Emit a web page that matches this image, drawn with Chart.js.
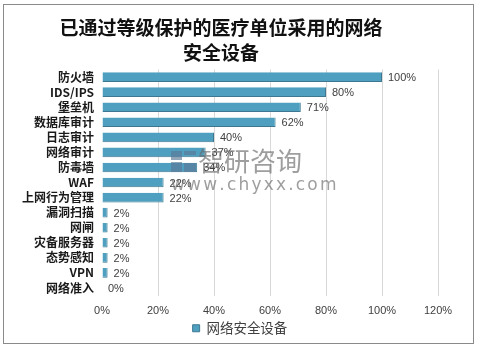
<!DOCTYPE html>
<html><head><meta charset="utf-8">
<script src="https://cdn.jsdelivr.net/npm/chart.js@4/dist/chart.umd.min.js"></script>
<style>html,body{margin:0;padding:0;background:#fff}#wrap{width:478px;height:348px;position:relative}</style>
</head><body><div id="wrap"><canvas id="c" width="478" height="348"></canvas></div>
<script>
const categories = ['防火墙','IDS/IPS','堡垒机','数据库审计','日志审计','网络审计','防毒墙','WAF','上网行为管理','漏洞扫描','网闸','灾备服务器','态势感知','VPN','网络准入'];
const values = [100,80,71,62,40,37,34,22,22,2,2,2,2,2,0];
const seriesName = '网络安全设备';
const titleLines = ['已通过等级保护的医疗单位采用的网络','安全设备'];
const xTicks = [0,20,40,60,80,100,120];

const frame = {
  id:'frame',
  beforeDraw(chart){
    const c=chart.ctx; c.save(); c.fillStyle='#fff'; c.fillRect(0,0,chart.width,chart.height); c.restore();
  },
  afterLayout(chart){
    if(chart.legend){ chart.legend.left=4; chart.legend.right=476; }
  },
  afterDraw(chart){
    const c=chart.ctx; c.save();
    c.strokeStyle='#8a8a8a'; c.lineWidth=1;
    c.strokeRect(3.5,4.5,470,339);
    c.restore();
  }
};
const labelsPlugin = {
  id:'barLabels',
  afterDatasetsDraw(chart){
    const c=chart.ctx; const meta=chart.getDatasetMeta(0);
    c.save(); c.font='11px "Liberation Sans", Arial, sans-serif'; c.fillStyle='#404040';
    c.textBaseline='middle'; c.textAlign='left';
    meta.data.forEach((el,i)=>{ c.fillText(values[i]+'%', el.x+6, el.y+1); });
    c.restore();
  }
};
const watermark = {
  id:'wm',
  afterDraw(chart){
    const c=chart.ctx; c.save();
    c.globalAlpha=0.65;
    c.fillStyle='#5a7896';
    c.fillRect(171,151,11,9); c.fillRect(184,151,12,4); c.fillRect(171,162,11,10); c.fillRect(184,163,12,9);
    c.fillStyle='#6a6a6a';
    c.font='26px "Noto Sans CJK SC", sans-serif'; c.textBaseline='middle'; c.textAlign='left';
    c.fillText('智研咨询',198,161);
    c.font='17px "DejaVu Sans", sans-serif';
    let x=171; for(const ch of 'www.chyxx.com'){ c.fillText(ch,x,186); x+=c.measureText(ch).width+2.2; }
    c.restore();
  }
};

new Chart(document.getElementById('c'),{
  type:'bar',
  data:{labels:categories,datasets:[{label:seriesName,data:values,
    backgroundColor:(ctx)=>{
      const ch=ctx.chart; const el=ctx.element;
      if(!el||!ch.chartArea||!Number.isFinite(el.y)) return '#4f9fc0';
      const g=ch.ctx.createLinearGradient(0,el.y-5,0,el.y+5);
      g.addColorStop(0,'#6bb8d6'); g.addColorStop(0.5,'#4f9fc0'); g.addColorStop(1,'#3b7f9c');
      return g;
    },
    borderColor:'#3d7890',borderWidth:{top:0,bottom:1,right:1,left:0},
    categoryPercentage:1,barPercentage:0.64}]},
  options:{
    indexAxis:'y',responsive:false,animation:false,
    layout:{padding:{left:4,right:40,bottom:3,top:0}},
    plugins:{
      title:{display:true,text:titleLines,color:'#111',font:{family:'"Noto Sans CJK SC", sans-serif',size:19,weight:'bold',lineHeight:1.33},padding:{top:15,bottom:4}},
      legend:{position:'bottom',labels:{boxWidth:7,boxHeight:7,padding:4,color:'#404040',font:{family:'"Noto Sans CJK SC", sans-serif',size:13.5},
        generateLabels:()=>[{text:seriesName,fillStyle:'#4f9fc0',strokeStyle:'#3d7890',lineWidth:1,fontColor:'#404040'}]}},
      tooltip:{enabled:false}
    },
    scales:{
      x:{min:0,max:120,afterBuildTicks:(s)=>{s.ticks=xTicks.map(v=>({value:v}));},
        afterFit:(s)=>{s.height=22;},
        ticks:{callback:(v)=>v+'%',color:'#404040',padding:9,font:{family:'"Liberation Sans", Arial, sans-serif',size:11}},
        grid:{drawTicks:false,color:(ctx)=>ctx.tick&&ctx.tick.value===0?'rgba(0,0,0,0)':'#d9d9d9'},
        border:{display:false}},
      y:{afterFit:(s)=>{s.width=98;},
        ticks:{color:'#1a1a1a',padding:8,autoSkip:false,font:{family:'"Noto Sans CJK SC", sans-serif',size:12,weight:'bold'}},
        grid:{display:false,drawTicks:false},border:{display:false}}
    }
  },
  plugins:[frame,labelsPlugin,watermark]
});
</script></body></html>
